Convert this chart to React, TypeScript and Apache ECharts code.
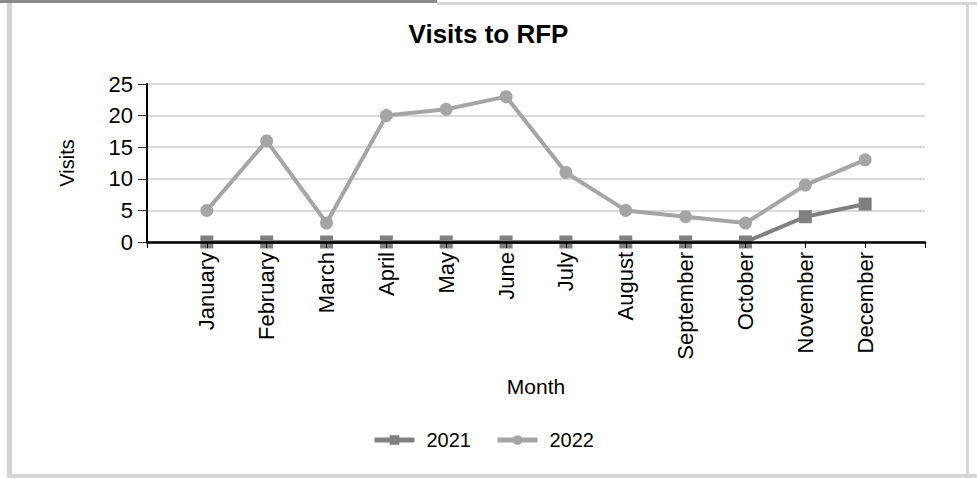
import React, { useEffect, useRef } from "react";
import * as echarts from "echarts";

const months = [
  "January", "February", "March", "April", "May", "June",
  "July", "August", "September", "October", "November", "December",
];
const visits2021 = [0, 0, 0, 0, 0, 0, 0, 0, 0, 0, 4, 6];
const visits2022 = [5, 16, 3, 20, 21, 23, 11, 5, 4, 3, 9, 13];
const yTicks = { min: 0, max: 25, interval: 5 };

const FONT = "Liberation Sans, Arial, sans-serif";

// Blank slots at each end give the half-gap padding around the months
const categories = ["", ...months, ""];
const pad = (arr: number[]) => [null, ...arr, null];

export default function App() {
  const ref = useRef<HTMLDivElement>(null);

  useEffect(() => {
    if (!ref.current) return;
    const chart = echarts.init(ref.current, undefined, { renderer: "svg" });
    chart.setOption({
      animation: false,
      backgroundColor: "#ffffff",
      textStyle: { fontFamily: FONT },
      title: {
        text: "Visits to RFP",
        left: "center",
        top: 16,
        textStyle: { fontFamily: FONT, fontSize: 26, fontWeight: "bold", color: "#000" },
      },
      grid: { left: 147, right: 52, top: 84, bottom: 236 },
      legend: {
        bottom: 28,
        left: 372,
        padding: 0,
        itemWidth: 40,
        itemHeight: 12,
        itemGap: 24,
        lineStyle: { width: 5 },
        textStyle: { fontFamily: FONT, fontSize: 20, color: "#000", padding: [0, 0, 0, 7] },
        data: ["2021", "2022"],
      },
      xAxis: {
        type: "category",
        data: categories,
        boundaryGap: false,
        z: 5,
        name: "Month",
        nameLocation: "middle",
        nameGap: 134,
        nameTextStyle: { fontFamily: FONT, fontSize: 21, color: "#000" },
        axisLine: { lineStyle: { color: "#000", width: 2.5 } },
        axisTick: { show: true, length: 6, lineStyle: { color: "#000", width: 1 } },
        axisLabel: {
          rotate: 90,
          margin: 10,
          fontFamily: FONT,
          fontSize: 22,
          color: "#000",
          interval: 0,
        },
        splitLine: { show: false },
      },
      yAxis: {
        type: "value",
        min: yTicks.min,
        max: yTicks.max,
        interval: yTicks.interval,
        name: "Visits",
        nameLocation: "middle",
        nameGap: 70,
        nameRotate: 90,
        nameTextStyle: { fontFamily: FONT, fontSize: 20, color: "#000" },
        axisLine: { show: true, lineStyle: { color: "#000", width: 2 } },
        axisTick: { show: true, length: 9, lineStyle: { color: "#333", width: 1 } },
        axisLabel: { margin: 14, fontFamily: FONT, fontSize: 22, color: "#000" },
        splitLine: { lineStyle: { color: "#d9d9d9", width: 2 } },
      },
      series: [
        {
          name: "2021",
          type: "line",
          data: pad(visits2021),
          symbol: "rect",
          symbolSize: 13,
          showAllSymbol: true,
          color: "#808080",
          lineStyle: { width: 4, color: "#808080" },
          itemStyle: { color: "#808080" },
          z: 3,
        },
        {
          name: "2022",
          type: "line",
          data: pad(visits2022),
          symbol: "circle",
          symbolSize: 13,
          showAllSymbol: true,
          color: "#a5a5a5",
          lineStyle: { width: 4, color: "#a5a5a5" },
          itemStyle: { color: "#a5a5a5" },
          z: 4,
        },
      ],
      graphic: [
        // page frame
        { type: "rect", shape: { x: 0, y: 0, width: 437, height: 3 }, style: { fill: "#8a8a8a" }, z: 10 },
        { type: "rect", shape: { x: 437, y: 2, width: 540, height: 3 }, style: { fill: "#d6d6d6" }, z: 10 },
        { type: "rect", shape: { x: 7, y: 3, width: 5, height: 475 }, style: { fill: "#d3d3d3" }, z: 10 },
        { type: "rect", shape: { x: 966, y: 3, width: 3, height: 474 }, style: { fill: "#d6d6d6" }, z: 10 },
        { type: "rect", shape: { x: 7, y: 474, width: 970, height: 4 }, style: { fill: "#d6d6d6" }, z: 10 },
      ],
    });
    return () => chart.dispose();
  }, []);

  return (
    <div
      ref={ref}
      style={{ position: "absolute", left: 0, top: 0, width: 977, height: 478 }}
    />
  );
}
